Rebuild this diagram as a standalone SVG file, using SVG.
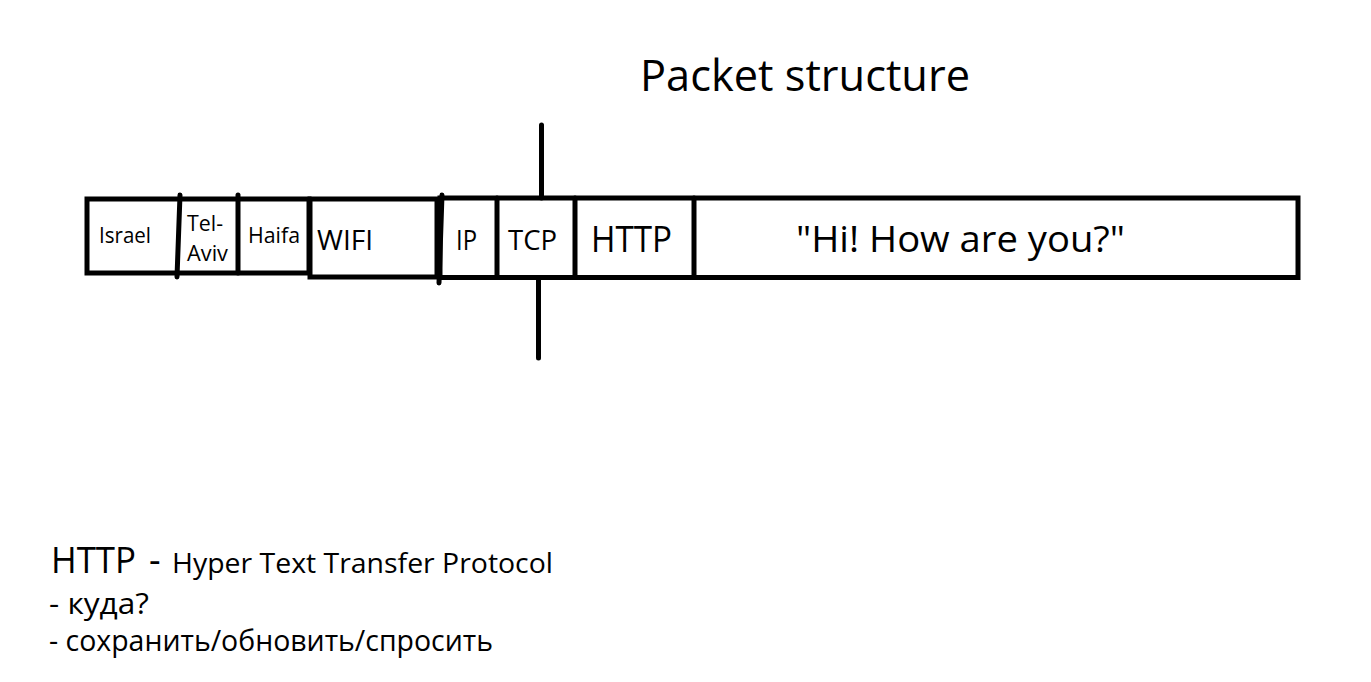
<svg xmlns="http://www.w3.org/2000/svg" width="1371" height="682" viewBox="0 0 1371 682">
<style>
.box{fill:none;stroke:#000;stroke-width:5;stroke-linejoin:miter}
.ln{stroke:#000;stroke-width:5;stroke-linecap:round;fill:none}
text{font-family:"Open Sans","Noto Sans","Liberation Sans",sans-serif;fill:#000}
</style>
<rect width="1371" height="682" fill="#fff"/>
<text id="title" x="640" y="91" font-size="44.5" textLength="330" lengthAdjust="spacingAndGlyphs">Packet structure</text>

<g id="packet">
  <g id="node-geo">
    <rect class="box" x="87" y="199" width="222" height="74"/>
  </g>
  <g id="node-israel">
    <text x="99" y="243" font-size="21.5" textLength="52" lengthAdjust="spacingAndGlyphs">Israel</text>
  </g>
  <g id="node-telaviv">
    <line class="ln" x1="180" y1="195" x2="177" y2="277"/>
    <text x="187" y="231" font-size="21.5" textLength="36" lengthAdjust="spacingAndGlyphs">Tel-</text>
    <text x="187" y="261" font-size="21.5" textLength="41" lengthAdjust="spacingAndGlyphs">Aviv</text>
  </g>
  <g id="node-haifa">
    <line class="ln" x1="238" y1="195" x2="238" y2="273"/>
    <text x="248" y="243" font-size="22" textLength="52" lengthAdjust="spacingAndGlyphs">Haifa</text>
  </g>
  <g id="node-wifi">
    <rect class="box" x="310" y="199" width="127" height="78"/>
    <line class="ln" x1="442" y1="195" x2="439" y2="283"/>
    <text x="317" y="250" font-size="27" textLength="56" lengthAdjust="spacingAndGlyphs">WIFI</text>
  </g>
  <g id="node-rest">
    <rect class="box" x="440" y="198" width="858" height="79.5"/>
  </g>
  <g id="node-ip">
    <text x="456" y="250" font-size="27" textLength="21" lengthAdjust="spacingAndGlyphs">IP</text>
  </g>
  <g id="node-tcp">
    <line class="ln" x1="497" y1="198" x2="497" y2="277"/>
    <text x="508" y="250" font-size="27" textLength="49" lengthAdjust="spacingAndGlyphs">TCP</text>
  </g>
  <g id="node-http">
    <line class="ln" x1="575" y1="198" x2="575" y2="277"/>
    <text x="591" y="252" font-size="37" textLength="81" lengthAdjust="spacingAndGlyphs">HTTP</text>
  </g>
  <g id="node-message">
    <line class="ln" x1="694" y1="198" x2="694" y2="277"/>
    <text x="796" y="252" font-size="37" textLength="329" lengthAdjust="spacingAndGlyphs">"Hi! How are you?"</text>
  </g>
</g>

<g id="connectors">
  <line class="ln" x1="541.5" y1="125" x2="541.5" y2="198"/>
  <line class="ln" x1="538.5" y1="279" x2="538.5" y2="358"/>
</g>

<g id="notes">
  <text x="51" y="573" font-size="36" textLength="85" lengthAdjust="spacingAndGlyphs">HTTP</text>
  <text x="149" y="573" font-size="36">-</text>
  <text x="172" y="573" font-size="28" textLength="381" lengthAdjust="spacingAndGlyphs">Hyper Text Transfer Protocol</text>
  <text x="49" y="614" font-size="29" textLength="100" lengthAdjust="spacingAndGlyphs">- куда?</text>
  <text x="49" y="651" font-size="29" textLength="444" lengthAdjust="spacingAndGlyphs">- сохранить/обновить/спросить</text>
</g>
</svg>
